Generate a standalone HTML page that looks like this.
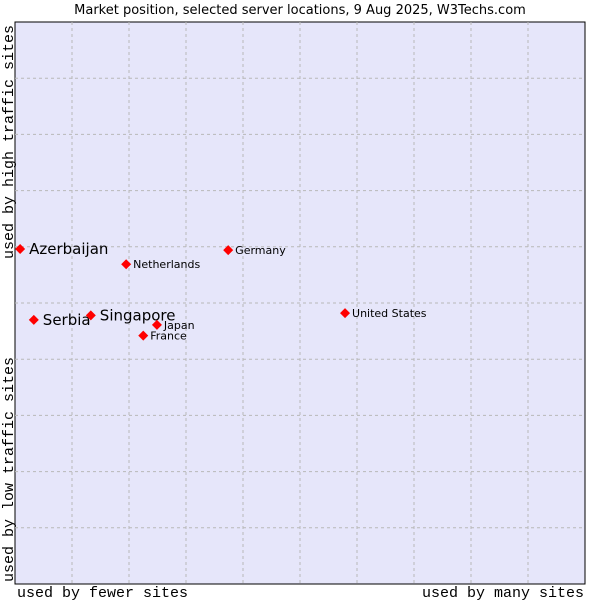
<!DOCTYPE html>
<html><head><meta charset="utf-8"><style>
body{margin:0;background:#fff;}
svg{display:block;font-family:"DejaVu Sans",sans-serif;}
</style></head><body>
<svg width="600" height="600">
<text x="300" y="14" text-anchor="middle" font-size="13" fill="#000">Market position, selected server locations, 9 Aug 2025, W3Techs.com</text>
<rect x="15" y="22" width="570" height="562" fill="#e6e6fa" stroke="#000" stroke-width="1"/>
<g id="grid"></g>
<g id="points"></g>
<text x="17" y="597" font-family="Liberation Mono, monospace" font-size="15">used by fewer sites</text>
<text x="584" y="597" text-anchor="end" font-family="Liberation Mono, monospace" font-size="15">used by many sites</text>
<text transform="translate(13,259) rotate(-90)" font-family="Liberation Mono, monospace" font-size="15">used by high traffic sites</text>
<text transform="translate(13,582) rotate(-90)" font-family="Liberation Mono, monospace" font-size="15">used by low traffic sites</text>
</svg>
<script>
const names=["Azerbaijan","Netherlands","Germany","Serbia","Singapore","Japan","France","United States"];
const xs=[0.9,19.5,37.4,3.3,13.3,24.9,22.5,57.9];
const ys=[59.6,56.9,59.4,47.0,47.8,46.1,44.2,48.2];
const big=[true,false,false,true,true,false,false,false];
const NS="http://www.w3.org/2000/svg";
const X0=15,X1=585,Y0=584,Y1=22;
const sx=v=>X0+v/100*(X1-X0), sy=v=>Y0-v/100*(Y0-Y1);
const g=document.getElementById('grid');
for(let i=1;i<10;i++){
  const vx=document.createElementNS(NS,'line');
  
  
  vx.setAttribute('x1',sx(i*10));vx.setAttribute('x2',sx(i*10));vx.setAttribute('y1',Y1);vx.setAttribute('y2',Y0);
  vx.setAttribute('stroke','#b8b8b8');vx.setAttribute('stroke-dasharray','3,3');g.appendChild(vx);
  const hy=document.createElementNS(NS,'line');
  
  
  hy.setAttribute('x1',X0);hy.setAttribute('x2',X1);hy.setAttribute('y1',sy(i*10));hy.setAttribute('y2',sy(i*10));
  hy.setAttribute('stroke','#b8b8b8');hy.setAttribute('stroke-dasharray','3,3');g.appendChild(hy);
}
const p=document.getElementById('points');
names.forEach((n,i)=>{
  const x=sx(xs[i]),y=sy(ys[i]);
  const d=document.createElementNS(NS,'polygon');
  
  
  d.setAttribute('points',`${x},${y-5} ${x+5},${y} ${x},${y+5} ${x-5},${y}`);
  d.setAttribute('fill','#f00');p.appendChild(d);
  const t=document.createElementNS(NS,'text');
  
  
  t.setAttribute('x',x+(big[i]?9:7));t.setAttribute('y',y+(big[i]?5:4));
  t.setAttribute('font-size',big[i]?15:11);t.textContent=n;p.appendChild(t);
});
</script>
</body></html>
